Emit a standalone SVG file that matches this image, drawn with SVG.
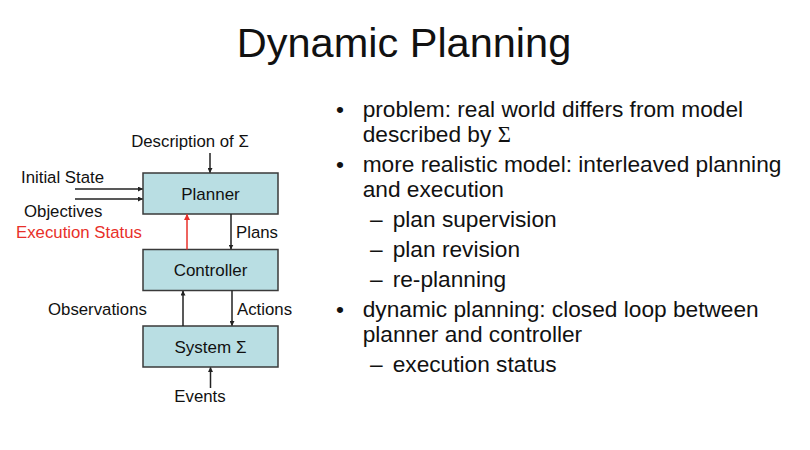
<svg xmlns="http://www.w3.org/2000/svg" width="810" height="450" viewBox="0 0 810 450">
<style>
text{font-family:"Liberation Sans",Arial,sans-serif;fill:#111}
.lbl{font-size:16.8px}
.node rect{fill:#b9dee3;stroke:#3a3a3a;stroke-width:1.5}
.node text{font-size:17px;text-anchor:middle}
.c{stroke:#222;stroke-width:1.5;fill:none;marker-end:url(#ah)}
.red{stroke:#e8302a;marker-end:url(#ahr)}
.b{font-size:22.7px}
</style>
<defs>
<marker id="ah" viewBox="0 0 10 10" refX="9" refY="5" markerWidth="5" markerHeight="5" orient="auto" markerUnits="userSpaceOnUse"><path d="M0,0 L10,5 L0,10 z" fill="#222"/></marker>
<marker id="ahr" viewBox="0 0 10 10" refX="9" refY="5" markerWidth="6" markerHeight="6" orient="auto" markerUnits="userSpaceOnUse"><path d="M0,0 L10,5 L0,10 z" fill="#e8302a"/></marker>
</defs>
<rect width="810" height="450" fill="#fff"/>
<text x="404" y="57" font-size="41.5" text-anchor="middle">Dynamic Planning</text>

<g id="planner" class="node"><rect x="143" y="173" width="135" height="41"/><text x="210.5" y="199.5">Planner</text></g>
<g id="controller" class="node"><rect x="143" y="249.5" width="135" height="41"/><text x="210.5" y="276">Controller</text></g>
<g id="system" class="node"><rect x="143" y="326" width="135" height="41"/><text x="210.5" y="353">System Σ</text></g>

<g id="connectors">
<line class="c" x1="210" y1="153" x2="210" y2="172.5"/>
<line class="c" x1="75" y1="189" x2="142.5" y2="189"/>
<line class="c" x1="75" y1="199" x2="142.5" y2="199"/>
<line class="c" x1="231" y1="214" x2="231" y2="249"/>
<line class="c red" x1="187" y1="249.5" x2="187" y2="214.5"/>
<line class="c" x1="183" y1="326" x2="183" y2="291"/>
<line class="c" x1="232" y1="290.5" x2="232" y2="325.5"/>
<line class="c" x1="210.5" y1="388" x2="210.5" y2="367.5"/>
</g>

<text class="lbl" x="190" y="147" text-anchor="middle">Description of Σ</text>
<text class="lbl" x="21" y="183">Initial State</text>
<text class="lbl" x="24" y="217">Objectives</text>
<text class="lbl" x="16" y="238" style="fill:#e8302a">Execution Status</text>
<text class="lbl" x="236" y="238">Plans</text>
<text class="lbl" x="48" y="315">Observations</text>
<text class="lbl" x="237" y="315">Actions</text>
<text class="lbl" x="200" y="402" text-anchor="middle">Events</text>

<g class="b">
<text x="336" y="116.7">•</text>
<text x="362.7" y="116.7">problem: real world differs from model</text>
<text x="362.7" y="141.7">described by <tspan font-family="'Liberation Serif',serif">Σ</tspan></text>
<text x="336" y="171.7">•</text>
<text x="362.7" y="171.7">more realistic model: interleaved planning</text>
<text x="362.7" y="196.7">and execution</text>
<text x="370" y="226.7">–</text>
<text x="392.7" y="226.7">plan supervision</text>
<text x="370" y="256.7">–</text>
<text x="392.7" y="256.7">plan revision</text>
<text x="370" y="286.7">–</text>
<text x="392.7" y="286.7">re-planning</text>
<text x="336" y="316.7">•</text>
<text x="362.7" y="316.7">dynamic planning: closed loop between</text>
<text x="362.7" y="341.7">planner and controller</text>
<text x="370" y="371.7">–</text>
<text x="392.7" y="371.7">execution status</text>
</g>
</svg>
